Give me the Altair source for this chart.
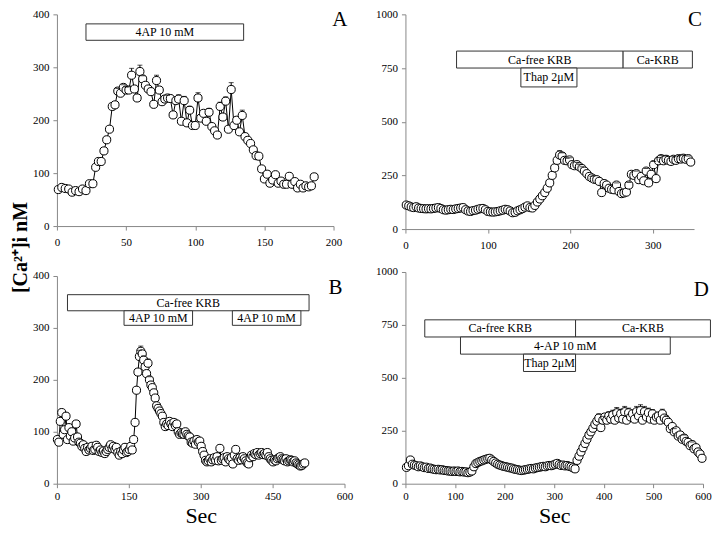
import altair as alt
import pandas as pd

FONT = "Liberation Serif"

# ---------------- Panel A ----------------
A_t = [1, 3.5, 6, 8.5, 11, 13.5, 16, 18.5, 21, 23.5, 26, 28] + list(range(30, 187, 2))
A_v = [69, 73, 71, 70, 64, 67, 65, 70, 67, 80,
       80, 111, 122, 122, 142, 163, 183, 226, 229, 255,
       251, 262, 257, 257, 285, 259, 242, 292, 278, 266,
       259, 254, 230, 275, 257, 235, 240, 242, 241, 210,
       237, 240, 198, 237, 195, 219, 190, 190, 242, 204,
       213, 198, 215, 188, 180, 172, 226, 206, 236, 183,
       258, 190, 200, 178, 209, 169, 162, 156, 144, 133,
       132, 108, 89, 98, 81, 87, 97, 81, 85, 79,
       79, 94, 79, 84, 72, 79, 72, 76, 74, 76, 93]
A_err = {44: 5, 48: 5, 50: 6, 52: 6, 54: 13, 60: 12, 62: 6, 72: 10, 80: 5, 88: 8,
         92: 8, 96: 7, 102: 10, 110: 7, 118: 8, 122: 8, 126: 13, 134: 10}
A_box_x1 = [21]
A_box_x2 = [135]
A_box_y1 = [351]
A_box_y2 = [382]
A_box_txt = ["4AP 10 mM"]

# ---------------- Panel B ----------------
B_v = [85, 80, 120, 137, 95, 104, 130, 85, 108, 92, 100, 82, 88, 115, 90, 80,
       78, 72, 75, 68, 62, 70, 65, 68, 72, 64, 66, 74, 70, 62, 65, 60, 63, 58, 62, 66,
       70, 75, 68, 72, 66, 70, 60, 55, 62, 58, 65, 70, 60, 62, 66, 72, 65,
       85, 118, 180, 215, 245, 255, 250, 238, 225, 212, 232, 200, 190, 185, 175, 165,
       150, 145, 140, 135, 130, 118, 110, 115, 112, 120, 115, 110, 118, 112, 115, 100,
       95, 98, 96, 95, 100, 95, 92, 90, 80, 78, 82, 76, 85, 80, 82, 72, 62, 55, 45, 42,
       44, 48, 42, 46, 50, 45, 52, 44, 68, 45, 48, 50, 42, 52, 48, 45, 50, 38, 55, 66,
       48, 45, 50, 46, 52, 48, 44, 40, 38, 50, 55, 52, 58, 56, 60, 55, 58, 60, 56, 58,
       55, 60, 52, 48, 45, 42, 46, 44, 48, 50, 52, 48, 46, 44, 48, 42, 44, 46, 45, 42,
       44, 40, 38, 36, 34, 35, 38, 40]
B_t = [1 + 3 * i for i in range(len(B_v))]
B_err = {172: 12, 175: 10, 181: 8, 190: 8, 193: 6}
B_box_x1 = [22, 140, 366]
B_box_x2 = [526, 283, 509]
B_box_y1 = [333, 305, 305]
B_box_y2 = [364, 333, 333]
B_box_txt = ["Ca-free KRB", "4AP 10 mM", "4AP 10 mM"]

# ---------------- Panel C ----------------
C_v = [112, 108, 103, 100, 104, 98, 96, 95, 94, 95, 94, 96, 98, 100, 96, 90, 88, 90,
       92, 91, 94, 96, 98, 100, 90, 84, 82, 86, 88, 92, 95, 96, 90, 82, 80, 79, 80, 82,
       85, 88, 92, 90, 84, 76, 78, 85, 90, 95, 102, 108, 100, 98, 110, 126, 140, 155,
       170, 190, 215, 250, 285, 320, 345, 340, 320, 318, 322, 300, 295, 300, 290, 282,
       270, 258, 245, 238, 232, 230, 222, 170, 212, 205, 190, 185, 183, 205, 175, 165,
       168, 172, 205, 255, 250, 258, 230, 245, 225, 270, 215, 255, 300, 235, 318, 328,
       318, 325, 320, 315, 325, 320, 328, 326, 330, 325, 328, 312]
C_t = [1 + 3 * i for i in range(len(C_v))]
C_err = {187: 20, 190: 15, 196: 12, 199: 10, 208: 10, 211: 10, 214: 8, 226: 8,
         256: 10, 271: 12, 280: 12, 292: 12, 301: 15, 307: 15, 310: 14, 316: 15,
         325: 12, 331: 12, 337: 14, 343: 12}
C_box_x1 = [62, 264, 140]
C_box_x2 = [264, 348, 208]
C_box_y1 = [750, 750, 662]
C_box_y2 = [829, 829, 750]
C_box_txt = ["Ca-free KRB", "Ca-KRB", "Thap 2\u03bcM"]

# ---------------- Panel D ----------------
D_v = [77, 85, 112, 92, 88, 85, 80, 84, 80, 76, 78, 72, 74, 70, 68, 66, 68, 65, 66, 63,
       62, 60, 60, 58, 60, 58, 60, 56, 58, 55, 56, 52, 55, 60, 80, 95, 100, 105, 108, 112,
       115, 118, 120, 112, 105, 98, 92, 88, 85, 82, 80, 78, 75, 74, 70, 68, 66, 64, 62, 64,
       66, 68, 70, 72, 70, 74, 76, 78, 80, 82, 80, 84, 86, 85, 88, 92, 96, 90, 86, 88,
       84, 86, 82, 80, 75, 70, 110, 130, 150, 170, 190, 210, 230, 245, 262, 280, 295, 310,
       265, 300, 315, 300, 320, 305, 325, 300, 335, 310, 330, 305, 340, 300, 335, 315, 330,
       305, 340, 320, 345, 300, 340, 315, 335, 305, 330, 300, 315, 320, 300, 330, 310, 300,
       290, 260, 270, 245, 250, 225, 230, 210, 215, 200, 195, 180, 185, 165, 170, 150, 140, 120]
D_t = [2 + 4 * i for i in range(len(D_v))]
D_err = {390: 20, 398: 18, 410: 20, 418: 22, 426: 25, 434: 22, 442: 25, 450: 22,
         466: 25, 474: 28, 482: 25, 490: 22, 498: 20, 518: 22, 526: 20, 542: 15,
         562: 15, 578: 12}
D_box_x1 = [39, 343, 111, 238]
D_box_x2 = [343, 615, 534, 343]
D_box_y1 = [693, 693, 612, 530]
D_box_y2 = [774, 774, 693, 612]
D_box_txt = ["Ca-free KRB", "Ca-KRB", "4-AP 10 mM", "Thap 2\u03bcM"]


def panel(t, v, err, bx1, bx2, by1, by2, btxt, letter, let_dx, let_y,
          xmax, xticks, ymax, yticks, w, h, xtitle, xpad):
    df = pd.DataFrame({"t": t, "v": v})
    df["hi"] = [val + err.get(tt, 0) for tt, val in zip(t, v)]
    edf = df[df["hi"] > df["v"]]

    xs = alt.Scale(domain=[0, xmax], nice=False, zero=False)
    ys = alt.Scale(domain=[0, ymax], nice=False)
    xax = alt.Axis(values=xticks, grid=False, labelPadding=xpad, tickSize=4, format="d",
                   titlePadding=4, labelFlush=False, labelFont=FONT, labelFontSize=11)
    yax = alt.Axis(values=yticks, grid=False, labelPadding=4, tickSize=4, format="d",
                   labelFont=FONT, labelFontSize=11)
    xenc = alt.X("t:Q", scale=xs, axis=xax, title=xtitle)
    yenc = alt.Y("v:Q", scale=ys, axis=yax, title=None)

    base = alt.Chart(df)
    line = base.mark_line(color="black", strokeWidth=1).encode(x=xenc, y=yenc)
    rule = alt.Chart(edf).mark_rule(color="black", strokeWidth=1).encode(
        x="t:Q", y="v:Q", y2="hi:Q")
    cap = alt.Chart(edf).mark_tick(orient="horizontal", color="black", size=5,
                                   thickness=1).encode(x="t:Q", y="hi:Q")
    pts = base.mark_point(shape="circle", filled=True, color="white", stroke="black",
                          strokeWidth=1, size=66, opacity=1).encode(x="t:Q", y="v:Q")

    bdf = pd.DataFrame({"x1": bx1, "x2": bx2, "y1": by1, "y2": by2, "label": btxt})
    bdf["xm"] = (bdf["x1"] + bdf["x2"]) / 2
    bdf["ym"] = (bdf["y1"] + bdf["y2"]) / 2
    rects = alt.Chart(bdf).mark_rect(fill="white", stroke="#333", strokeWidth=1).encode(
        x="x1:Q", x2="x2:Q", y="y1:Q", y2="y2:Q")
    texts = alt.Chart(bdf).mark_text(font=FONT, fontSize=12, color="black",
                                     baseline="middle").encode(
        x="xm:Q", y="ym:Q", text="label:N")

    lab = alt.Chart(pd.DataFrame({"l": [letter]})).mark_text(
        font=FONT, fontSize=21, color="black", align="right", baseline="top"
    ).encode(x=alt.value(w + let_dx), y=alt.value(let_y), text="l:N")

    return alt.layer(line, rule, pts, cap, rects, texts, lab).properties(width=w, height=h)


A = panel(A_t, A_v, A_err, A_box_x1, A_box_x2, A_box_y1, A_box_y2, A_box_txt,
          "A", 14, -5, 200, [0, 50, 100, 150, 200], 400, [0, 100, 200, 300, 400],
          277, 212, None, 6)
B = panel(B_t, B_v, B_err, B_box_x1, B_box_x2, B_box_y1, B_box_y2, B_box_txt,
          "B", -2, 1, 600, [0, 150, 300, 450, 600], 400, [0, 100, 200, 300, 400],
          288, 208, "Sec", 3)
C = panel(C_t, C_v, C_err, C_box_x1, C_box_x2, C_box_y1, C_box_y2, C_box_txt,
          "C", 8, -5, 350, [0, 100, 200, 300], 1000, [0, 250, 500, 750, 1000],
          289, 215, None, 6)
D = panel(D_t, D_v, D_err, D_box_x1, D_box_x2, D_box_y1, D_box_y2, D_box_txt,
          "D", 6, 7, 600, [0, 100, 200, 300, 400, 500, 600], 1000, [0, 250, 500, 750, 1000],
          298, 212, "Sec", 3)

left = alt.vconcat(A, B, spacing=23)
right = alt.vconcat(C, D, spacing=16)

chart = alt.hconcat(left, right, spacing=22).properties(
    padding={"left": 3, "top": 0, "right": 0, "bottom": 0},
    title=alt.TitleParams(text="[Ca\u00b2\u207a]i nM", orient="left", anchor="middle",
                          font=FONT, fontSize=20, fontWeight="bold", color="black",
                          offset=1, dx=20),
).configure_view(stroke=None).configure_axis(
    domainColor="#888", tickColor="#888", labelFont=FONT, labelFontSize=11,
    labelColor="black", titleFont=FONT, titleFontSize=22, titleFontWeight="normal",
    titleColor="black",
)

chart.save("out.html", embed_options={"renderer": "svg", "actions": False})
